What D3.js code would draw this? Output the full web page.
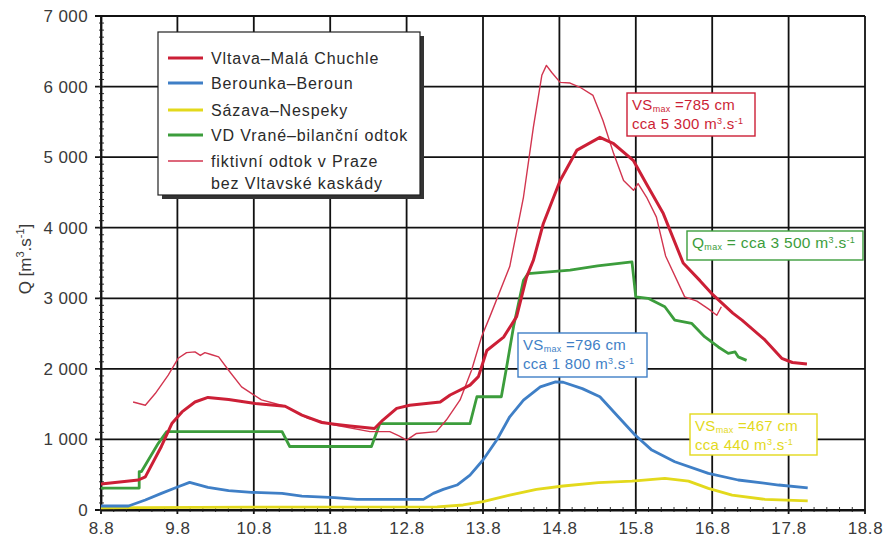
<!DOCTYPE html>
<html>
<head>
<meta charset="utf-8">
<script src="https://cdn.jsdelivr.net/npm/d3@7"></script>
<style>
  body { margin: 0; background: #fff; }
  text { font-family: "Liberation Sans", Arial, sans-serif; }
</style>
</head>
<body>
<svg width="891" height="545"></svg>
<script>
// day of August 2002 -> discharge Q [m3/s]
const vltava = [[8.0,370],[8.49,425],[8.58,470],[8.79,900],[8.93,1230],[9.06,1390],[9.23,1530],[9.40,1595],
  [9.67,1565],[10.02,1510],[10.41,1470],[10.63,1345],[10.89,1240],[11.06,1215],[11.26,1190],[11.58,1155],
  [11.69,1275],[11.87,1440],[12.04,1485],[12.44,1530],[12.57,1630],[12.83,1770],[12.94,1890],[13.05,2260],
  [13.27,2450],[13.44,2740],[13.57,3300],[13.66,3540],[13.79,4060],[14.01,4670],[14.23,5100],[14.53,5280],
  [14.71,5190],[14.97,4950],[15.14,4620],[15.36,4200],[15.62,3500],[15.84,3250],[15.99,3070],[16.27,2790],
  [16.39,2690],[16.69,2410],[16.91,2150],[17.05,2090],[17.24,2070]];
const beroun = [[8.0,57],[8.36,57],[8.58,142],[8.79,236],[9.01,330],[9.16,392],[9.40,321],[9.67,274],
  [9.97,250],[10.37,236],[10.63,198],[11.06,175],[11.35,151],[12.22,151],[12.35,236],[12.48,292],[12.66,354],
  [12.83,495],[13.0,708],[13.18,991],[13.35,1321],[13.53,1557],[13.75,1745],[13.95,1815],[14.05,1810],
  [14.3,1720],[14.53,1604],[14.77,1321],[14.99,1062],[15.21,849],[15.51,684],[15.95,519],[16.34,425],
  [16.87,354],[17.25,315]];
const nespeky = [[8.0,30],[8.5,35],[10.0,40],[12.4,45],[12.74,71],[13.0,118],[13.35,212],[13.70,292],
  [14.05,340],[14.51,387],[14.95,410],[15.38,448],[15.69,410],[15.95,307],[16.26,212],[16.69,151],[17.25,130]];
const vrane = [[8.0,310],[8.5,310],[8.5,545],[8.53,545],[8.75,945],[8.86,1110],[10.37,1110],[10.47,900],
  [11.54,900],[11.65,1225],[12.83,1225],[12.92,1605],[13.24,1605],[13.31,2030],[13.40,2600],[13.53,3255],
  [13.59,3350],[14.14,3400],[14.5,3460],[14.95,3515],[15.0,3020],[15.16,3000],[15.38,2880],[15.51,2690],
  [15.73,2645],[15.90,2455],[16.08,2310],[16.21,2220],[16.30,2240],[16.34,2170],[16.45,2120]];
const fiktivni = [[8.42,1530],[8.58,1485],[8.71,1650],[8.88,1910],[9.01,2150],[9.12,2230],[9.23,2240],
  [9.30,2190],[9.36,2230],[9.45,2200],[9.54,2170],[9.67,1980],[9.84,1745],[10.10,1560],[10.41,1470],
  [10.71,1300],[11.06,1205],[11.52,1110],[11.78,1110],[11.90,1050],[12.0,990],[12.13,1085],[12.39,1110],
  [12.52,1275],[12.70,1560],[12.85,1980],[12.98,2450],[13.09,2740],[13.35,3450],[13.53,4435],[13.66,5430],
  [13.77,6160],[13.83,6300],[13.90,6200],[14.01,6060],[14.14,6050],[14.27,5990],[14.44,5875],[14.57,5520],
  [14.71,5050],[14.84,4670],[14.97,4530],[15.03,4625],[15.14,4435],[15.27,4150],[15.39,3600],[15.64,3020],
  [15.80,2960],[15.95,2850],[16.06,2760],[16.12,2880]];

const dayTicks = d3.range(8, 19);
const qTicks = d3.range(0, 7001, 1000);
const seriesNames = ["Vltava–Malá Chuchle", "Berounka–Beroun", "Sázava–Nespeky", "VD Vrané–bilanční odtok"];

const svg = d3.select('svg');
const x = d3.scaleLinear().domain([8, 18]).range([101, 865]);
const y = d3.scaleLinear().domain([0, 7000]).range([510, 16]);

const red = '#cc1f36', blue = '#3f7fc6', yellow = '#e3d91c', green = '#3c9d3c', pink = '#d2354f';

// grid
svg.append('g').selectAll('line').data(dayTicks).join('line')
  .attr('x1', d => x(d)).attr('x2', d => x(d))
  .attr('y1', y(7000)).attr('y2', y(0) + 4)
  .attr('stroke', '#111').attr('stroke-width', 1.8);
svg.append('g').selectAll('line').data(qTicks).join('line')
  .attr('x1', x(8) - 6).attr('x2', x(18))
  .attr('y1', d => y(d)).attr('y2', d => y(d))
  .attr('stroke', '#111').attr('stroke-width', 1.8);

// minor ticks
svg.append('g').selectAll('line').data(d3.range(0, 7000, 100)).join('line')
  .attr('x1', x(8) - 2).attr('x2', x(8) + 3)
  .attr('y1', d => y(d)).attr('y2', d => y(d))
  .attr('stroke', '#333').attr('stroke-width', 1);
svg.append('g').selectAll('line').data(d3.range(8, 18, 1 / 6)).join('line')
  .attr('x1', d => x(d)).attr('x2', d => x(d))
  .attr('y1', y(0) - 3).attr('y2', y(0) + 2)
  .attr('stroke', '#333').attr('stroke-width', 1);

// axes labels
const yAxis = svg.append('g')
  .attr('transform', `translate(${x(8)},0)`)
  .call(d3.axisLeft(y).tickValues(qTicks).tickSize(0).tickPadding(13)
    .tickFormat(d => d3.format(',')(d).replace(',', ' ')));
yAxis.select('.domain').attr('stroke', '#111').attr('stroke-width', 1.8);
yAxis.selectAll('text').attr('font-size', 17).attr('fill', '#3a3a3a').attr('letter-spacing', 0.4)
  .attr('font-family', '"Liberation Sans", Arial, sans-serif');

const xAxis = svg.append('g')
  .attr('transform', `translate(0,${y(0)})`)
  .call(d3.axisBottom(x).tickValues(dayTicks).tickSize(0).tickPadding(12)
    .tickFormat(d => d + '.8'));
xAxis.select('.domain').attr('stroke', '#111').attr('stroke-width', 1.8);
xAxis.selectAll('text').attr('font-size', 17).attr('fill', '#3a3a3a').attr('letter-spacing', 0.6)
  .attr('font-family', '"Liberation Sans", Arial, sans-serif');

// y title
const yt = svg.append('text')
  .attr('transform', 'translate(31,259) rotate(-90)')
  .attr('text-anchor', 'middle').attr('font-size', 17).attr('fill', '#3a3a3a');
yt.append('tspan').text('Q [m');
yt.append('tspan').text('3').attr('font-size', 11).attr('dy', -7);
yt.append('tspan').text('.s').attr('dy', 7);
yt.append('tspan').text('-1').attr('font-size', 11).attr('dy', -7);
yt.append('tspan').text(']').attr('dy', 7);

// lines
const line = d3.line().x(d => x(d[0])).y(d => y(d[1]));
const draw = (data, color, w) => svg.append('path').datum(data)
  .attr('d', line).attr('fill', 'none').attr('stroke', color)
  .attr('stroke-width', w).attr('stroke-linejoin', 'round');
draw(nespeky, yellow, 2.8);
draw(beroun, blue, 2.8);
draw(vrane, green, 2.8);
draw(fiktivni, pink, 1.4);
draw(vltava, red, 3);

// legend
svg.append('rect').attr('x', 162).attr('y', 36).attr('width', 262).attr('height', 163).attr('fill', '#333');
svg.append('rect').attr('x', 158).attr('y', 32).attr('width', 262).attr('height', 163)
  .attr('fill', '#fff').attr('stroke', '#222').attr('stroke-width', 1.2);
const legendColors = [red, blue, yellow, green, pink];
const legendRows = [58, 83, 110, 135, 161];
const legendLabels = seriesNames.concat(['fiktivní odtok v Praze']);
legendLabels.forEach((name, i) => {
  svg.append('line').attr('x1', 168).attr('x2', 203)
    .attr('y1', legendRows[i]).attr('y2', legendRows[i])
    .attr('stroke', legendColors[i]).attr('stroke-width', i === 4 ? 1.6 : 3);
  svg.append('text').attr('x', 211).attr('y', legendRows[i] + 6)
    .attr('font-size', 16).attr('letter-spacing', 0.9).attr('fill', '#2a2a2a').text(name);
});
svg.append('text').attr('x', 211).attr('y', 189).attr('font-size', 16).attr('letter-spacing', 0.9)
  .attr('fill', '#2a2a2a').text('bez Vltavské kaskády');

// annotation boxes
function box(x0, y0, w, h, color, lines, fs) {
  const g = svg.append('g');
  g.append('rect').attr('x', x0).attr('y', y0).attr('width', w).attr('height', h)
    .attr('fill', '#fff').attr('stroke', color).attr('stroke-width', 1.4);
  lines.forEach((parts, i) => {
    const t = g.append('text').attr('x', x0 + 5).attr('y', y0 + 17 + i * 19)
      .attr('font-size', fs).attr('letter-spacing', 0.3).attr('fill', color);
    let shift = 0;
    parts.forEach(p => {
      const s = p[1] === 'sub' ? 2 : p[1] === 'sup' ? -5 : 0;
      t.append('tspan').text(p[0]).attr('dy', s - shift)
        .attr('font-size', s === 0 ? fs : 9);
      shift = s;
    });
  });
}
box(627, 93, 128, 43, red, [[['VS'], ['max', 'sub'], [' =785 cm']],
  [['cca 5 300 m'], ['3', 'sup'], ['.s'], ['-1', 'sup']]], 15);
box(687, 231, 176, 29, green, [[['Q'], ['max', 'sub'], [' = cca 3 500 m'], ['3', 'sup'], ['.s'], ['-1', 'sup']]], 15.5);
box(518, 333, 129, 44, blue, [[['VS'], ['max', 'sub'], [' =796 cm']],
  [['cca 1 800 m'], ['3', 'sup'], ['.s'], ['-1', 'sup']]], 15);
box(690, 414, 127, 41, yellow, [[['VS'], ['max', 'sub'], [' =467 cm']],
  [['cca 440 m'], ['3', 'sup'], ['.s'], ['-1', 'sup']]], 15);
</script>
</body>
</html>
